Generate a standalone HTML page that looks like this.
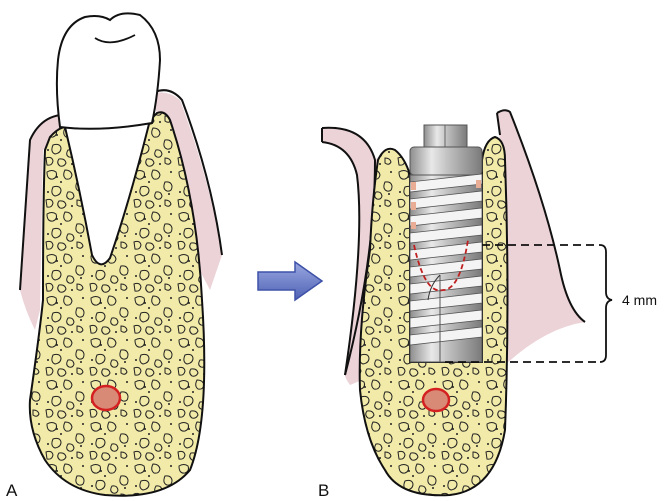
<!DOCTYPE html>
<html><head><meta charset="utf-8"><style>
html,body{margin:0;padding:0;background:#fff;width:664px;height:501px;overflow:hidden}
svg{display:block}
text{font-family:"Liberation Sans",sans-serif}
</style></head><body>
<svg width="664" height="501" viewBox="0 0 664 501" xmlns="http://www.w3.org/2000/svg">
<defs>
<pattern id="bone" width="44" height="42" patternUnits="userSpaceOnUse">
<rect width="44" height="42" fill="#f1eaa8"/>
<g fill="none" stroke="#222" stroke-width="1">
<path d="M3 4 q5 -3 9 0 q2 5 -3 7 q-6 1 -6 -7z"/>
<path d="M21 2 q6 0 7 5 q-1 5 -6 4 q-4 -3 -1 -9z"/>
<path d="M33 14 q6 -1 7 4 q0 6 -5 5 q-5 -2 -2 -9z"/>
<path d="M9 19 q7 -2 8 3 q0 5 -6 6 q-5 -2 -2 -9z"/>
<path d="M24 24 q5 -1 6 4 q-1 4 -5 3 q-4 -2 -1 -7z"/>
<path d="M2 32 q6 -2 7 3 q-1 5 -6 4z"/>
<path d="M15 33 q6 -1 7 4 q-2 4 -6 3 q-4 -3 -1 -7z"/>
<path d="M33 32 q5 0 6 4 q-2 4 -6 1z"/>
</g>
<g fill="#222"><circle cx="17" cy="14" r="1"/><circle cx="39" cy="4" r="1"/><circle cx="4" cy="24" r="1"/><circle cx="28" cy="38" r="1"/><circle cx="37" cy="26" r="1"/><circle cx="13" cy="9" r="1"/></g>
</pattern>
<linearGradient id="metal" x1="0" x2="1" y1="0" y2="0">
<stop offset="0" stop-color="#8d8d8d"/><stop offset="0.3" stop-color="#e8e8e8"/><stop offset="0.55" stop-color="#bdbdbd"/><stop offset="1" stop-color="#7a7a7a"/>
</linearGradient>
<linearGradient id="arr" x1="0" x2="0" y1="0" y2="1"><stop offset="0" stop-color="#9aa8e0"/><stop offset="1" stop-color="#4f62b5"/></linearGradient>
</defs>

<!-- A pink gum -->
<path d="M30 140 Q40 118 60 115 L65 127 L43 150 L40 310 L35 330 Q25 310 20 290 Z" fill="#ecd3d7"/>
<path d="M150 95 Q165 88 180 100 Q210 180 222 255 L210 290 L198 267 L157 113 Z" fill="#ecd3d7"/>
<path d="M20 290 L30 140 Q40 118 60 115" fill="none" stroke="#111" stroke-width="2"/>
<path d="M155 92 Q170 86 182 100 Q212 180 222 255" fill="none" stroke="#111" stroke-width="2"/>
<!-- A bone -->
<path d="M50 137 Q58 128 65 127 Q80 190 92 255 Q100 272 110 258 Q130 200 150 120 L157 113 Q165 110 170 120 Q197 200 202 300 Q210 420 190 470 Q165 500 105 495 Q65 490 45 460 Q28 430 30 400 Q40 330 43 300 Q43 200 45 150 Z" fill="url(#bone)" stroke="#111" stroke-width="2"/>
<ellipse cx="106" cy="398" rx="14" ry="12" fill="#d98a76" stroke="#d42020" stroke-width="2.5"/>
<!-- tooth crown -->
<path d="M60 127 Q55 90 58 60 Q62 25 85 17 Q100 14 110 20 Q120 10 140 15 Q160 30 160 60 Q158 95 152 123 Q100 132 60 127 Z" fill="#fff" stroke="#111" stroke-width="2"/>
<path d="M95 38 Q110 48 135 35" fill="none" stroke="#111" stroke-width="1.8"/>

<!-- arrow -->
<path d="M258 272 L295 272 L295 262 L322 281 L295 300 L295 290 L258 290 Z" fill="url(#arr)" stroke="#3f52a8" stroke-width="1.5"/>

<!-- B pink -->
<path d="M322 128 Q365 125 375 160 L387 150 L372 300 L362 380 L350 385 Q345 378 345 375 Q365 240 357 175 Q350 145 322 142 Z" fill="#ecd3d7"/>
<path d="M322 128 Q365 125 375 160 Q375 260 345 375" fill="none" stroke="#111" stroke-width="2"/>
<path d="M322 142 Q350 145 357 175 Q365 240 345 375" fill="none" stroke="#111" stroke-width="2"/>
<path d="M322 128 L322 142" stroke="#111" stroke-width="2"/>
<path d="M497 113 Q505 108 510 112 Q545 200 560 270 Q568 310 585 322 Q545 328 505 365 L500 140 Z" fill="#ecd3d7"/>
<path d="M497 113 Q505 108 510 112 Q545 200 560 270 Q568 310 585 322" fill="none" stroke="#111" stroke-width="2"/>
<path d="M497 113 L500 135" stroke="#111" stroke-width="2"/>
<!-- B bone -->
<path d="M378 160 Q385 145 395 150 Q405 158 410 175 L410 362 L482 362 L482 160 Q485 140 495 137 Q505 140 505 160 Q510 300 505 430 Q495 490 450 495 Q400 498 385 470 Q365 440 360 390 Q358 330 370 250 Q372 200 378 160 Z" fill="url(#bone)" stroke="#111" stroke-width="2"/>
<ellipse cx="436" cy="400" rx="13" ry="11" fill="#d98a76" stroke="#d42020" stroke-width="2.5"/>
<!-- implant -->
<rect x="424" y="125" width="43" height="22" fill="url(#metal)" stroke="#555" stroke-width="1"/>
<line x1="445" y1="125" x2="445" y2="147" stroke="#666"/>
<rect x="410" y="147" width="72" height="28" rx="4" fill="url(#metal)" stroke="#555" stroke-width="1"/>
<rect x="410" y="175" width="72" height="187" fill="url(#metal)" stroke="#555" stroke-width="1"/>
<g fill="#f4f4f4" stroke="#555" stroke-width="0.8">
<path d="M410 182 L482 174 L482 184 L410 192Z"/>
<path d="M410 199 L482 191 L482 201 L410 209Z"/>
<path d="M410 216 L482 208 L482 218 L410 226Z"/>
<path d="M410 233 L482 225 L482 235 L410 243Z"/>
<path d="M410 250 L482 242 L482 252 L410 260Z"/>
<path d="M410 267 L482 259 L482 269 L410 277Z"/>
<path d="M410 284 L482 276 L482 286 L410 294Z"/>
<path d="M410 301 L482 293 L482 303 L410 311Z"/>
<path d="M410 318 L482 310 L482 320 L410 328Z"/>
<path d="M410 335 L482 327 L482 337 L410 345Z"/>
</g>
<g fill="#e8ad94"><rect x="411" y="182" width="5" height="8"/><rect x="411" y="202" width="5" height="8"/><rect x="476" y="180" width="5" height="8"/><rect x="411" y="222" width="5" height="7"/></g>
<path d="M440 275 L440 362" stroke="#555"/>
<path d="M440 275 Q430 285 428 300" fill="none" stroke="#333"/>
<path d="M414 245 Q425 295 443 290 Q460 290 468 240" fill="none" stroke="#c02020" stroke-width="1.8" stroke-dasharray="5,3"/>
<!-- dimension -->
<g fill="none" stroke="#111" stroke-width="1.8" stroke-dasharray="8,5">
<path d="M482 245 L600 245"/><path d="M445 362 L600 362"/>
</g>
<path d="M600 245 Q606 245 606 252 L606 292 Q606 299 612 300 Q606 301 606 308 L606 355 Q606 362 600 362" fill="none" stroke="#111" stroke-width="1.8"/>
<text x="622" y="305" font-size="14" fill="#111">4 mm</text>
<text x="6" y="496" font-size="17" fill="#111">A</text>
<text x="318" y="496" font-size="17" fill="#111">B</text>
</svg>
</body></html>
